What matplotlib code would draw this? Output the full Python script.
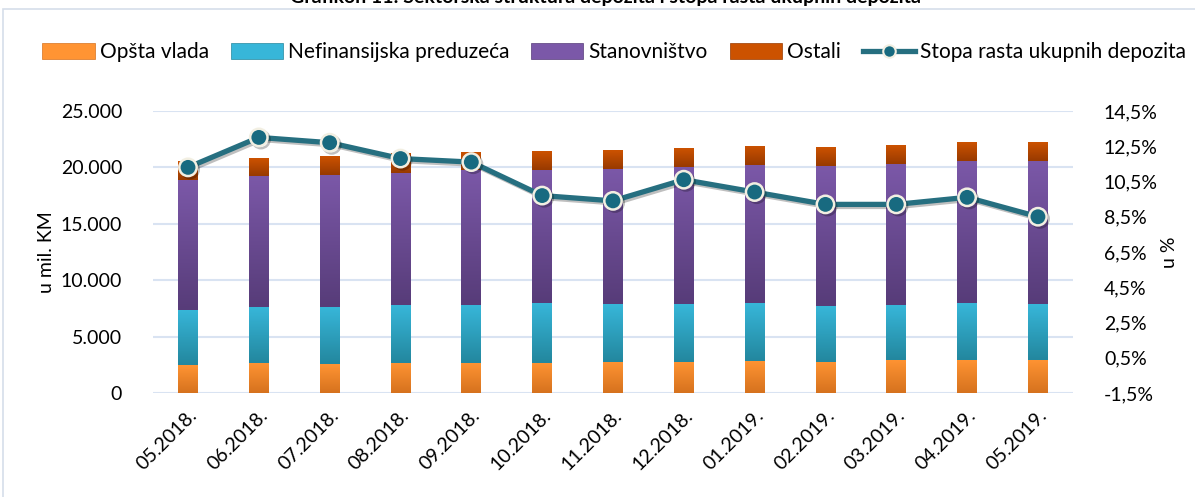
import numpy as np
import matplotlib
matplotlib.use('Agg')
import matplotlib.pyplot as plt
import matplotlib.patheffects as pe
from matplotlib.colors import LinearSegmentedColormap
from matplotlib.patches import Patch, Rectangle
from matplotlib.lines import Line2D
from matplotlib.ticker import FuncFormatter

plt.rcParams['font.family'] = ['Lato', 'DejaVu Sans']

# data (mil. KM and %)
months = ['05.2018.', '06.2018.', '07.2018.', '08.2018.', '09.2018.', '10.2018.', '11.2018.',
          '12.2018.', '01.2019.', '02.2019.', '03.2019.', '04.2019.', '05.2019.']
opsta_vlada = [2480, 2660, 2570, 2660, 2660, 2660, 2750, 2750, 2840, 2750, 2930, 2930, 2930]
nefinansijska = [4880, 4960, 5050, 5140, 5140, 5320, 5140, 5140, 5140, 4960, 4870, 5050, 4960]
stanovnistvo = [11520, 11640, 11700, 11700, 11970, 11820, 11970, 12145, 12230, 12410, 12500, 12590, 12680]
ostali = [1680, 1570, 1680, 1750, 1600, 1660, 1680, 1680, 1690, 1680, 1680, 1680, 1680]
stopa_rasta = [11.3, 13.0, 12.7, 11.8, 11.6, 9.7, 9.4, 10.6, 9.9, 9.2, 9.2, 9.6, 8.5]

series = [
    ('Opšta vlada', opsta_vlada, '#FF9433', '#D6721E'),
    ('Nefinansijska preduzeća', nefinansijska, '#37B6D9', '#23879E'),
    ('Stanovništvo', stanovnistvo, '#7B58A8', '#573C79'),
    ('Ostali', ostali, '#CC5200', '#983A00'),
]

fig = plt.figure(figsize=(11.95, 4.97), dpi=100)
ax = fig.add_axes([0.1277, 0.2093, 0.7705, 0.5674])
ax2 = ax.twinx()

x = np.arange(len(months))
width = 0.28
bottom = np.zeros(len(months))
grad = np.linspace(0, 1, 64).reshape(-1, 1)
for name, vals, top_c, bot_c in series:
    vals = np.array(vals, dtype=float)
    bars = ax.bar(x, vals, width, bottom=bottom, color=top_c, zorder=2)
    cmap = LinearSegmentedColormap.from_list(name, [bot_c, top_c])
    for b in bars:
        x0, y0 = b.get_x(), b.get_y()
        im = ax.imshow(grad, extent=[x0, x0 + b.get_width(), y0, y0 + b.get_height()],
                       origin='lower', aspect='auto', cmap=cmap, zorder=3)
        im.set_clip_path(b)
    bottom += vals

ax.set_xlim(-0.5, len(months) - 0.5)
ax.set_ylim(0, 25000)
ax.set_yticks(np.arange(0, 25001, 5000))
ax.yaxis.set_major_formatter(FuncFormatter(lambda v, p: f'{int(v):,}'.replace(',', '.')))
ax.grid(axis='y', color='#D9E3F2', linewidth=1.5, zorder=0)
ax.set_axisbelow(True)
ax.set_xticks(x)
ax.set_xticklabels(months, rotation=45, ha='right', rotation_mode='anchor')
ax.tick_params(axis='both', length=0, labelsize=14, colors='black')
ax.tick_params(axis='x', pad=10)
ax.tick_params(axis='y', pad=22)
ax.set_ylabel('u mil. KM', fontsize=14, labelpad=4)

ax2.plot(x, stopa_rasta, color='#266F80', linewidth=3.8, marker='o', markersize=12.5,
         markerfacecolor='#186A80', markeredgecolor='#F2EFE2', markeredgewidth=1.8, zorder=5,
         path_effects=[pe.SimpleLineShadow(offset=(1.5, -1.5), alpha=0.25), pe.Normal()])
ax2.set_ylim(-1.5, 14.5)
ax2.set_yticks(np.arange(-1.5, 14.6, 2))
ax2.yaxis.set_major_formatter(FuncFormatter(lambda v, p: f'{v:.1f}%'.replace('.', ',')))
ax2.tick_params(axis='y', length=0, labelsize=14, pad=22)
ax2.set_ylabel('u %', fontsize=14, labelpad=2, rotation=90)
ax.set_zorder(ax2.get_zorder() - 1)
ax.patch.set_visible(True)
ax2.patch.set_visible(False)

for a in (ax, ax2):
    for s in a.spines.values():
        s.set_visible(False)

handles = [Patch(facecolor=s[2], edgecolor=s[3], linewidth=0.5) for s in series]
handles.append(Line2D([0], [0], color='#266F80', linewidth=3.8, marker='o', markersize=9,
                      markerfacecolor='#186A80', markeredgecolor='#F2EFE2', markeredgewidth=1.5))
labels = [s[0] for s in series] + ['Stopa rasta ukupnih depozita']
fig.legend(handles, labels, loc='center', bbox_to_anchor=(0.514, 0.895), ncol=5, frameon=False,
           fontsize=15, handlelength=2.5, handleheight=0.8, handletextpad=0.25, columnspacing=1.05)

fig.text(0.507, 1.0 + 2 / 497, 'Grafikon 11: Sektorska struktura depozita i stopa rasta ukupnih depozita',
         ha='center', va='center', fontsize=14, fontweight='bold')
fig.patches.append(Rectangle((3 / 1195, -0.1), 1.2, 1.1 - 9 / 497, transform=fig.transFigure,
                             fill=False, edgecolor='#D6DEEA', linewidth=1.2))

fig.savefig('out.png', dpi=100)
